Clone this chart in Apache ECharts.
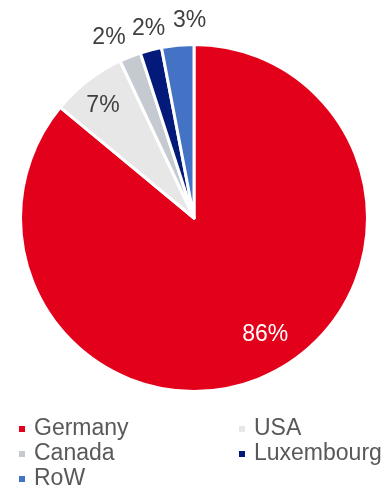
<!DOCTYPE html>
<html>
<head>
<meta charset="utf-8">
<script src="https://cdn.jsdelivr.net/npm/echarts@6/dist/echarts.min.js"></script>
<style>
  html, body { margin: 0; padding: 0; background: #ffffff; }
  #chart { width: 389px; height: 488px; }
</style>
</head>
<body>
<div id="chart"></div>
<script>
// Share by country, in percent
var countries = ['Germany', 'USA', 'Canada', 'Luxembourg', 'RoW'];
var shares = [86, 7, 2, 2, 3];
var colors = ['#E3001B', '#E7E7E7', '#C5CAD0', '#031A7A', '#4472C4'];

// label styling per slice: white inside the large slice, dark elsewhere
var labelColors = ['#ffffff', '#404040', '#404040', '#404040', '#404040'];
var labelOffsets = [[33, 35], [-36, -41], [-52, -97], [-23, -102], [4, -108]];

var pieData = countries.map(function (name, i) {
  return {
    name: name,
    value: shares[i],
    itemStyle: { color: colors[i] },
    label: { color: labelColors[i], offset: labelOffsets[i] }
  };
});

// top padding drops the text slightly below the square marker
var legendText = {
  color: '#595959',
  fontSize: 23,
  lineHeight: 23,
  fontFamily: 'Liberation Sans, Arial, sans-serif',
  padding: [4, 0, 0, 3]
};

// two-column legend grid: items fill left column then right, row by row
var legendColumns = [17, 237];
var legendRows = [415.5, 440.5, 465.5];

var legends = countries.map(function (name, i) {
  return {
    left: legendColumns[i % 2],
    top: legendRows[Math.floor(i / 2)],
    padding: 0,
    itemWidth: 8,
    itemHeight: 8,
    icon: 'rect',
    textStyle: legendText,
    data: [name]
  };
});

var chart = echarts.init(document.getElementById('chart'), null, { renderer: 'canvas' });
chart.setOption({
  animation: false,
  backgroundColor: '#ffffff',
  legend: legends,
  series: [
    {
      type: 'pie',
      center: [194, 218],
      radius: [0, 173.5],
      startAngle: 90,
      clockwise: true,
      avoidLabelOverlap: false,
      itemStyle: { borderColor: '#ffffff', borderWidth: 3 },
      label: {
        show: true,
        position: 'inside',
        fontSize: 23,
        fontFamily: 'Liberation Sans, Arial, sans-serif',
        formatter: function (p) { return p.value + '%'; }
      },
      labelLine: { show: false },
      emphasis: { disabled: true },
      data: pieData
    }
  ]
});
</script>
</body>
</html>
